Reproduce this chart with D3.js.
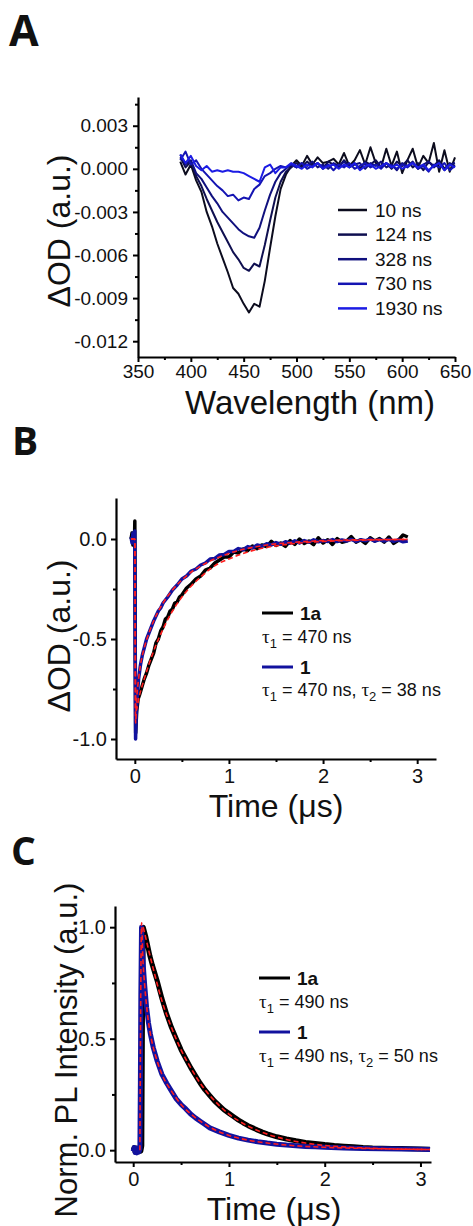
<!DOCTYPE html>
<html>
<head>
<meta charset="utf-8">
<script src="https://cdn.jsdelivr.net/npm/d3@7"></script>
<style>
  body { margin: 0; background: #fff; }
  svg text { font-family: "Liberation Sans", Arial, sans-serif; fill: #111; }
  .panel-label { font-family: "Open Sans", sans-serif; font-weight: 700; }
</style>
</head>
<body>
<svg id="fig" width="473" height="1226"></svg>
<script>
// ---------- panel A : transient absorption spectra ----------
var wavelengths = [390,395,400,405,410,415,420,425,430,435,440,445,450,455,460,465,470,475,480,485,490,495,
  500,505,510,515,520,525,530,535,540,545,550,555,560,565,570,575,580,585,590,595,
  600,605,610,615,620,625,630,635,640,645,650];
var delayLabels = ["10 ns", "124 ns", "328 ns", "730 ns", "1930 ns"];
var delayColors = ["#0c0c1e", "#0f0f50", "#10107e", "#1414b2", "#1c1ce4"];
var od10 = [0.0005,-0.0004,0.0003,-0.0008,-0.0016,-0.0030,-0.0040,-0.0052,-0.0062,-0.0072,-0.0083,-0.0087,-0.0094,-0.0100,-0.0094,-0.0096,-0.0078,-0.0055,-0.0033,-0.0014,-0.0004,0.0002,
  0.0006,0.0002,0.0009,0.0003,0.0008,0.0004,0.0005,0.0007,0.0003,0.0011,0.0002,0.0006,0.0013,0.0003,0.0015,0.0004,0.0001,0.0014,0.0002,0.0012,
  -0.0003,0.0006,0.0014,0.0001,0.0009,0.0004,0.0018,-0.0002,0.0013,-0.0002,0.0008];
var od124 = [0.0008,0.0001,0.0005,-0.0005,-0.0012,-0.0021,-0.0029,-0.0037,-0.0044,-0.0051,-0.0058,-0.0063,-0.0069,-0.0071,-0.0066,-0.0068,-0.0053,-0.0036,-0.0020,-0.0009,-0.0002,0.0001,
  0.0004,0.0001,0.0005,0.0002,0.0004,0.0000,0.0005,0.0003,0.0001,0.0006,0.0002,0.0004,0.0000,0.0005,0.0003,0.0006,0.0001,0.0004,0.0000,0.0005,
  0.0002,0.0006,0.0001,0.0004,-0.0001,0.0005,0.0002,0.0006,0.0000,0.0004,0.0002];
var od328 = [0.0010,0.0003,0.0006,-0.0003,-0.0007,-0.0013,-0.0019,-0.0024,-0.0030,-0.0034,-0.0038,-0.0042,-0.0045,-0.0047,-0.0048,-0.0041,-0.0029,-0.0018,-0.0009,-0.0003,0.0000,0.0003,
  0.0001,0.0004,0.0002,0.0005,0.0001,0.0003,0.0000,0.0004,0.0002,0.0005,0.0001,0.0003,0.0004,0.0000,0.0004,0.0002,0.0005,0.0001,0.0003,-0.0001,
  0.0004,0.0002,0.0005,0.0000,0.0003,0.0005,0.0001,0.0004,-0.0001,0.0003,0.0004];
var od730 = [0.0006,0.0012,0.0003,0.0006,0.0000,-0.0004,-0.0008,-0.0012,-0.0015,-0.0019,-0.0018,-0.0022,-0.0020,-0.0021,-0.0014,-0.0011,-0.0005,-0.0003,0.0000,0.0002,0.0001,0.0003,
  0.0001,0.0004,0.0000,0.0002,0.0004,0.0001,0.0003,-0.0001,0.0003,0.0001,0.0004,0.0000,0.0002,0.0004,0.0001,0.0003,0.0000,0.0004,0.0002,0.0000,
  0.0003,0.0001,0.0004,0.0000,0.0002,-0.0002,0.0003,0.0001,0.0004,-0.0001,0.0002];
var od1930 = [0.0010,0.0004,0.0009,0.0002,-0.0001,0.0002,-0.0002,-0.0001,-0.0002,-0.0001,-0.0002,-0.0002,-0.0003,-0.0005,-0.0007,-0.0009,0.0001,0.0003,-0.0003,0.0001,0.0001,0.0004,
  0.0002,0.0000,0.0003,0.0001,0.0004,0.0000,0.0002,0.0003,0.0000,0.0003,0.0001,0.0004,-0.0001,0.0002,0.0003,0.0000,0.0002,0.0004,0.0001,0.0003,
  0.0000,0.0002,0.0004,0.0001,0.0003,-0.0001,0.0002,0.0004,-0.0001,0.0003,0.0001];
var aXTicks = [350,400,450,500,550,600,650];
var aXMinor = [375,425,475,525,575,625];
var aYTicks = [-0.012,-0.009,-0.006,-0.003,0.000,0.003];
var aYMinor = [-0.0105,-0.0075,-0.0045,-0.0015,0.0015,0.0045];

// ---------- panel B : transient absorption kinetics [time (us), dOD] ----------
var b1a = [[-0.04,0.00],[-0.03,0.03],[-0.02,-0.03],[-0.01,0.02],[-0.004,-0.02],[0.0,0.09],[0.005,-0.6],[0.009,-0.97],[0.02,-0.86],[0.035,-0.80],
  [0.05,-0.78],[0.075,-0.74],[0.1,-0.70],[0.125,-0.67],[0.15,-0.63],[0.175,-0.60],[0.2,-0.57],[0.225,-0.52],[0.25,-0.50],[0.275,-0.46],
  [0.3,-0.44],[0.325,-0.40],[0.35,-0.39],[0.375,-0.36],[0.4,-0.35],[0.425,-0.32],[0.45,-0.315],[0.475,-0.29],[0.5,-0.28],[0.55,-0.245],
  [0.6,-0.225],[0.65,-0.20],[0.7,-0.185],[0.75,-0.155],[0.8,-0.145],[0.85,-0.12],[0.9,-0.105],[0.95,-0.09],[1.0,-0.09],[1.05,-0.065],
  [1.1,-0.07],[1.15,-0.05],[1.2,-0.058],[1.25,-0.035],[1.3,-0.048],[1.35,-0.03],[1.4,-0.038],[1.45,-0.012],[1.5,-0.032],[1.55,-0.02],
  [1.6,-0.037],[1.65,-0.008],[1.7,-0.027],[1.75,0.0],[1.8,-0.022],[1.85,-0.01],[1.9,-0.028],[1.95,0.006],[2.0,-0.02],[2.05,-0.004],
  [2.1,-0.027],[2.15,0.002],[2.2,-0.016],[2.25,-0.01],[2.3,0.012],[2.35,-0.016],[2.4,-0.004],[2.45,-0.022],[2.5,0.006],[2.55,-0.01],
  [2.6,0.002],[2.65,-0.016],[2.7,0.01],[2.75,-0.022],[2.8,-0.006],[2.85,0.02],[2.9,0.01]];
var b1 = [[-0.04,0.01],[-0.03,-0.02],[-0.02,0.03],[-0.01,-0.02],[-0.004,0.02],[0.0,0.04],[0.004,-0.6],[0.008,-1.0],[0.015,-0.88],[0.025,-0.79],
  [0.04,-0.70],[0.06,-0.63],[0.08,-0.58],[0.1,-0.545],[0.125,-0.50],[0.15,-0.47],[0.175,-0.44],[0.2,-0.41],[0.225,-0.385],[0.25,-0.36],
  [0.275,-0.345],[0.3,-0.32],[0.35,-0.29],[0.4,-0.255],[0.45,-0.23],[0.5,-0.20],[0.55,-0.185],[0.6,-0.16],[0.65,-0.15],[0.7,-0.13],
  [0.75,-0.12],[0.8,-0.10],[0.85,-0.097],[0.9,-0.08],[0.95,-0.077],[1.0,-0.062],[1.05,-0.062],[1.1,-0.048],[1.15,-0.054],[1.2,-0.038],
  [1.25,-0.045],[1.3,-0.03],[1.35,-0.036],[1.4,-0.024],[1.45,-0.03],[1.5,-0.018],[1.55,-0.026],[1.6,-0.014],[1.65,-0.021],[1.7,-0.009],
  [1.75,-0.02],[1.8,-0.008],[1.85,-0.016],[1.9,-0.004],[1.95,-0.014],[2.0,-0.008],[2.05,-0.012],[2.1,-0.003],[2.15,-0.013],[2.2,-0.005],
  [2.25,-0.01],[2.3,-0.002],[2.35,-0.012],[2.4,-0.004],[2.45,-0.009],[2.5,0.0],[2.55,-0.011],[2.6,-0.003],[2.65,-0.01],[2.7,-0.002],
  [2.75,-0.012],[2.8,-0.004],[2.85,-0.014],[2.9,-0.01]];
var bFit1a = [[-0.04,0],[0.0,0],[0.009,-0.86],[0.05,-0.78],[0.1,-0.70],[0.2,-0.56],[0.3,-0.45],[0.4,-0.36],[0.5,-0.29],[0.6,-0.235],
  [0.7,-0.19],[0.8,-0.15],[0.9,-0.12],[1.0,-0.10],[1.2,-0.065],[1.4,-0.042],[1.6,-0.028],[1.8,-0.018],[2.0,-0.012],[2.3,-0.007],[2.6,-0.004],[2.9,-0.002]];
var bFit1 = [[-0.04,0],[0.0,0],[0.008,-0.92],[0.02,-0.80],[0.04,-0.70],[0.06,-0.63],[0.1,-0.545],[0.15,-0.47],[0.2,-0.41],[0.3,-0.32],
  [0.4,-0.255],[0.5,-0.205],[0.6,-0.165],[0.7,-0.135],[0.8,-0.11],[0.9,-0.09],[1.0,-0.072],[1.2,-0.047],[1.4,-0.03],[1.6,-0.02],
  [1.8,-0.013],[2.0,-0.008],[2.4,-0.004],[2.9,-0.002]];
var bYTicks = [-1.0,-0.5,0.0];
var bYMinor = [-0.75,-0.25];
var timeTicks = [0,1,2,3];
var timeMinor = [0.5,1.5,2.5];

// ---------- panel C : PL decays [time (us), norm. intensity] ----------
var c1a = [[0.0,0.0],[0.01,0.012],[0.02,-0.008],[0.03,0.01],[0.04,-0.01],[0.05,0.008],[0.06,-0.006],[0.07,0.01],[0.08,-0.004],[0.09,0.02],
  [0.097,0.6],[0.105,1.0],[0.13,0.96],[0.15,0.92],[0.175,0.87],[0.2,0.83],[0.25,0.76],[0.3,0.68],[0.35,0.61],[0.4,0.55],
  [0.45,0.50],[0.5,0.45],[0.55,0.41],[0.6,0.37],[0.65,0.335],[0.7,0.30],[0.75,0.27],[0.8,0.245],[0.85,0.22],[0.9,0.20],
  [0.95,0.18],[1.0,0.165],[1.05,0.15],[1.1,0.135],[1.15,0.122],[1.2,0.11],[1.25,0.10],[1.3,0.09],[1.35,0.081],[1.4,0.073],
  [1.45,0.066],[1.5,0.06],[1.6,0.05],[1.7,0.042],[1.8,0.035],[1.9,0.03],[2.0,0.025],[2.1,0.021],[2.2,0.018],[2.3,0.015],
  [2.4,0.012],[2.5,0.01],[2.6,0.009],[2.7,0.008],[2.8,0.007],[2.9,0.006],[3.0,0.005],[3.1,0.004]];
var c1 = [[0.0,-0.005],[0.01,0.012],[0.02,-0.01],[0.03,0.008],[0.04,-0.012],[0.05,0.01],[0.06,-0.008],[0.07,0.005],[0.075,0.3],[0.08,0.7],
  [0.087,1.0],[0.095,0.92],[0.105,0.83],[0.12,0.74],[0.14,0.64],[0.16,0.57],[0.18,0.52],[0.21,0.46],[0.25,0.40],[0.3,0.34],
  [0.35,0.30],[0.4,0.265],[0.45,0.23],[0.5,0.205],[0.55,0.185],[0.6,0.162],[0.65,0.145],[0.7,0.13],[0.75,0.115],[0.8,0.10],
  [0.9,0.082],[1.0,0.066],[1.1,0.054],[1.2,0.045],[1.3,0.038],[1.4,0.032],[1.5,0.027],[1.6,0.023],[1.7,0.02],[1.8,0.017],
  [1.9,0.015],[2.0,0.013],[2.2,0.01],[2.4,0.008],[2.6,0.006],[2.8,0.005],[3.0,0.004],[3.1,0.003]];
var cFit1a = [[0.105,1.0],[0.2,0.83],[0.3,0.67],[0.4,0.55],[0.5,0.45],[0.6,0.37],[0.7,0.30],[0.8,0.245],[0.9,0.20],[1.0,0.162],
  [1.2,0.108],[1.4,0.072],[1.6,0.048],[1.8,0.032],[2.0,0.021],[2.3,0.012],[2.6,0.007],[3.1,0.003]];
var cFit1 = [[0.07,0.0],[0.088,1.02],[0.1,0.87],[0.12,0.74],[0.14,0.645],[0.17,0.545],[0.21,0.46],[0.25,0.40],[0.3,0.34],[0.4,0.265],
  [0.5,0.205],[0.6,0.163],[0.7,0.13],[0.8,0.103],[1.0,0.066],[1.2,0.045],[1.4,0.032],[1.6,0.023],[1.8,0.017],[2.0,0.013],[2.5,0.007],[3.1,0.003]];
var cYTicks = [0.0,0.5,1.0];
var cYMinor = [0.25,0.75];

var blue = "#12129e", red = "#ff1e1e";

var svg = d3.select("#fig");

function drawAxes(o) {
    var g = svg.append("g");
    var xAx = d3.axisBottom(o.x).tickValues(o.xTicks).tickSize(5).tickSizeOuter(0).tickPadding(o.xPad).tickFormat(o.xFmt);
    var yAx = d3.axisLeft(o.y).tickValues(o.yTicks).tickSize(5).tickSizeOuter(0).tickPadding(o.yPad).tickFormat(o.yFmt);
    g.append("g").attr("transform", "translate(0," + o.y.range()[0] + ")").call(xAx);
    g.append("g").attr("transform", "translate(" + o.x.range()[0] + ",0)").call(yAx);
    g.append("g").attr("transform", "translate(0," + o.y.range()[0] + ")")
        .call(d3.axisBottom(o.x).tickValues(o.xMinor).tickSize(3).tickFormat("")).select(".domain").remove();
    g.append("g").attr("transform", "translate(" + o.x.range()[0] + ",0)")
        .call(d3.axisLeft(o.y).tickValues(o.yMinor).tickSize(3).tickFormat("")).select(".domain").remove();
    g.selectAll(".domain").attr("stroke", "#000").attr("stroke-width", 2.2);
    g.selectAll(".tick line").attr("stroke", "#000").attr("stroke-width", 2);
    g.selectAll(".tick text").attr("font-family", "Liberation Sans, Arial, sans-serif")
        .attr("fill", "#111").attr("font-size", o.tickSize);
    return g;
}

function axisTitles(xt, yt) {
    svg.append("text").attr("x", xt.x).attr("y", xt.y).attr("text-anchor", "middle")
        .attr("font-size", xt.size).text(xt.text);
    svg.append("text").attr("transform", "translate(" + yt.x + "," + yt.y + ") rotate(-90)")
        .attr("text-anchor", "middle").attr("font-size", yt.size).text(yt.text);
}

function panelLabel(txt, x, y, size) {
    svg.append("text").attr("class", "panel-label").attr("x", x).attr("y", y)
        .attr("font-size", size).text(txt);
}

// legend with a bold sample name and a lifetime line under it
function fitLegend(x0, rows) {
    var g = svg.append("g");
    rows.forEach(function(r) {
        g.append("line").attr("x1", x0).attr("x2", x0 + 31).attr("y1", r.lineY).attr("y2", r.lineY)
            .attr("stroke", r.color).attr("stroke-width", 3);
        g.append("text").attr("x", x0 + 38).attr("y", r.lineY + 6.5).attr("font-size", 19)
            .attr("font-weight", "bold").text(r.name);
        var t = g.append("text").attr("x", x0).attr("y", r.tauY).attr("font-size", 18);
        r.taus.forEach(function(tau, i) {
            if (i > 0) t.append("tspan").text(", ");
            t.append("tspan").attr("font-family", "Liberation Serif, serif").attr("font-size", 19).text("τ");
            t.append("tspan").attr("font-size", 13).attr("dy", 5).text(i + 1);
            t.append("tspan").attr("dy", -5).text(" = " + tau + " ns");
        });
    });
}

// ================= A =================
panelLabel("A", 9, 46, 43);
var xA = d3.scaleLinear().domain([350, 650]).range([138, 455]);
var yA = d3.scaleLinear().domain([-0.0131, 0.0050]).range([357, 97]);
drawAxes({x: xA, y: yA, xTicks: aXTicks, xMinor: aXMinor, yTicks: aYTicks, yMinor: aYMinor,
    xFmt: function(d) { return d; }, yFmt: function(d) { return d.toFixed(3); },
    xPad: 3, yPad: 5, tickSize: 19});

var seriesA = [od10, od124, od328, od730, od1930];
var lineA = d3.line().x(function(d, i) { return xA(wavelengths[i]); }).y(function(d) { return yA(d); });
seriesA.forEach(function(s, k) {
    svg.append("path").attr("d", lineA(s)).attr("fill", "none")
        .attr("stroke", delayColors[k]).attr("stroke-width", 2).attr("stroke-linejoin", "round");
});

var legA = svg.append("g");
delayLabels.forEach(function(lbl, k) {
    var yy = 210 + k * 24.6;
    legA.append("line").attr("x1", 338).attr("x2", 367).attr("y1", yy).attr("y2", yy)
        .attr("stroke", delayColors[k]).attr("stroke-width", 2.5);
    legA.append("text").attr("x", 375).attr("y", yy + 6.5).attr("font-size", 19).text(lbl);
});

axisTitles({x: 310, y: 414, size: 33, text: "Wavelength (nm)"},
           {x: 70, y: 231, size: 32, text: "ΔOD (a.u.)"});

// ================= B =================
panelLabel("B", 12, 455, 39);
var xB = d3.scaleLinear().domain([-0.2, 3.2]).range([116, 436]);
var yB = d3.scaleLinear().domain([-1.1, 0.205]).range([759, 498]);
drawAxes({x: xB, y: yB, xTicks: timeTicks, xMinor: timeMinor, yTicks: bYTicks, yMinor: bYMinor,
    xFmt: function(d) { return d; }, yFmt: function(d) { return d.toFixed(1); },
    xPad: 5, yPad: 4, tickSize: 20});

var lineB = d3.line().x(function(d) { return xB(d[0]); }).y(function(d) { return yB(d[1]); });
var fitB = d3.line().curve(d3.curveMonotoneX).x(function(d) { return xB(d[0]); }).y(function(d) { return yB(d[1]); });
svg.append("path").attr("d", lineB(b1a)).attr("fill", "none").attr("stroke", "#000").attr("stroke-width", 3.5).attr("stroke-linejoin", "round");
svg.append("path").attr("d", lineB(b1)).attr("fill", "none").attr("stroke", blue).attr("stroke-width", 3.5).attr("stroke-linejoin", "round");
[bFit1a, bFit1].forEach(function(f) {
    svg.append("path").attr("d", fitB(f)).attr("fill", "none").attr("stroke", red)
        .attr("stroke-width", 1.6).attr("stroke-dasharray", "5,3");
});

fitLegend(262, [
    {name: "1a", color: "#000", lineY: 613, tauY: 643, taus: [470]},
    {name: "1", color: blue, lineY: 667, tauY: 696, taus: [470, 38]}
]);

axisTitles({x: 276, y: 817, size: 32, text: "Time (μs)"},
           {x: 70, y: 636, size: 32, text: "ΔOD (a.u.)"});

// ================= C =================
panelLabel("C", 11, 865, 39);
var xC = d3.scaleLinear().domain([-0.19, 3.11]).range([115, 431]);
var yC = d3.scaleLinear().domain([-0.053, 1.095]).range([1162, 906]);
drawAxes({x: xC, y: yC, xTicks: timeTicks, xMinor: timeMinor, yTicks: cYTicks, yMinor: cYMinor,
    xFmt: function(d) { return d; }, yFmt: function(d) { return d.toFixed(1); },
    xPad: 5, yPad: 4, tickSize: 20});

var lineC = d3.line().x(function(d) { return xC(d[0]); }).y(function(d) { return yC(d[1]); });
var fitC = d3.line().curve(d3.curveMonotoneX).x(function(d) { return xC(d[0]); }).y(function(d) { return yC(d[1]); });
svg.append("path").attr("d", lineC(c1a)).attr("fill", "none").attr("stroke", "#000").attr("stroke-width", 5).attr("stroke-linejoin", "round");
svg.append("path").attr("d", lineC(c1)).attr("fill", "none").attr("stroke", blue).attr("stroke-width", 5).attr("stroke-linejoin", "round");
[cFit1a, cFit1].forEach(function(f) {
    svg.append("path").attr("d", fitC(f)).attr("fill", "none").attr("stroke", red)
        .attr("stroke-width", 1.6).attr("stroke-dasharray", "5,3");
});

fitLegend(259, [
    {name: "1a", color: "#000", lineY: 978, tauY: 1008, taus: [490]},
    {name: "1", color: blue, lineY: 1032, tauY: 1062, taus: [490, 50]}
]);

axisTitles({x: 274, y: 1220, size: 32, text: "Time (μs)"},
           {x: 77, y: 1050, size: 31, text: "Norm. PL Intensity (a.u.)"});
</script>
</body>
</html>
